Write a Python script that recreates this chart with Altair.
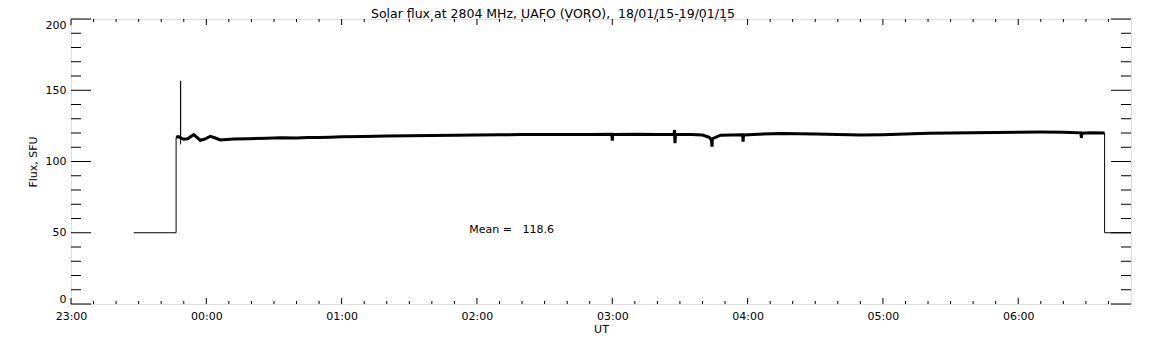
import altair as alt
import pandas as pd

# ---- data (time in minutes after 23:00 UT, flux in SFU) ----
pre_t = [27.8, 46.6, 46.6]
pre_v = [50.0, 50.0, 117.0]

spike_t = [48.6, 48.6, 48.6]
spike_v = [117.0, 156.6, 112.0]

sig_t = [46.6, 47.7, 49.9, 51.7, 54.4, 57.3, 59.1, 61.8, 64.0, 66.2, 72.1, 79.0,
         86.9, 92.8, 100.2, 105, 110, 115, 120, 130, 140, 150, 160, 170, 180,
         190, 200, 210, 220, 230, 239.8, 240, 240.2, 250, 260, 267.4, 267.6, 267.8,
         268.0, 268.2, 275, 280, 283, 284.0, 284.2, 284.4, 288, 297.8, 298, 298.2,
         305, 315, 330, 340, 350, 360, 370, 380, 390, 400, 410, 420, 430, 440,
         447.8, 448, 448.2, 452, 458.3]
sig_v = [117.0, 117.4, 115.6, 116.0, 118.8, 114.9, 115.6, 117.7, 116.5, 115.1,
         115.8, 116.0, 116.3, 116.7, 116.5, 116.8, 116.9, 117.1, 117.3, 117.6,
         117.9, 118.1, 118.3, 118.5, 118.6, 118.8, 118.9, 119.0, 118.9, 119.0,
         119.1, 114.6, 119.0, 119.2, 119.0, 119.1, 122.0, 112.8, 118.8, 118.9,
         118.9, 118.6, 117.0, 115.0, 110.4, 116.0, 118.5, 118.8, 113.9, 118.6,
         119.2, 119.6, 119.3, 119.0, 118.6, 118.8, 119.3, 119.8, 120.0, 120.2,
         120.4, 120.6, 120.7, 120.5, 120.1, 116.5, 119.9, 120.2, 120.0]

post_t = [458.3, 458.3, 470.0]
post_v = [120.0, 50.0, 50.0]

NB = "\u00a0"
mean_text = ["Mean =" + NB * 3 + "118.6"]
mean_t = [176.6]
mean_v = [52.0]

title_text = "Solar flux at 2804 MHz, UAFO (VORO)," + NB * 2 + "18/01/15-19/01/15"

x_major = [0, 60, 120, 180, 240, 300, 360, 420]
x_labels = ["23:00", "00:00", "01:00", "02:00", "03:00", "04:00", "05:00", "06:00"]
x_minor = [m for m in range(10, 470, 10) if m % 60 != 0]
y_major = [0, 50, 100, 150, 200]
y_minor = [v for v in range(10, 200, 10) if v % 50 != 0]

W, H = 1060, 285
FONT = "DejaVu Sans"

# ---- tables ----
rows = []
for seg, ts, vs in [("pre", pre_t, pre_v), ("spike", spike_t, spike_v),
                    ("post", post_t, post_v)]:
    for i, (t, v) in enumerate(zip(ts, vs)):
        rows.append({"seg": seg, "i": i, "t": t, "v": v})
df_thin = pd.DataFrame(rows)
df_sig = pd.DataFrame({"t": sig_t, "v": sig_v, "i": list(range(len(sig_t)))})

xscale = alt.Scale(domain=[0, 470], nice=False, zero=False)
yscale = alt.Scale(domain=[0, 200], nice=False)

label_arr = "[" + ",".join("'%s'" % s for s in x_labels) + "]"
xaxis = alt.Axis(values=x_major, labelExpr=label_arr + "[round(datum.value/60)]",
                 title="UT", ticks=False, domain=False, grid=False,
                 labelPadding=6, titlePadding=2, labelFlush=False, labelOverlap=False,
                 titleFontWeight="normal", titleFont=FONT, titleFontSize=11,
                 labelFont=FONT, labelFontSize=11, labelColor="black", titleColor="black")
yaxis = alt.Axis(values=y_major, title="Flux, SFU", ticks=False, domain=False,
                 grid=False, labelPadding=5, titlePadding=7, labelFlush=True,
                 labelOverlap=False, titleFontWeight="normal", titleFont=FONT,
                 titleFontSize=11, labelFont=FONT, labelFontSize=11,
                 labelColor="black", titleColor="black")

X = lambda f: alt.X(f, type="quantitative", scale=xscale, axis=xaxis)
Y = lambda f: alt.Y(f, type="quantitative", scale=yscale, axis=yaxis)

thin = alt.Chart(df_thin).mark_line(color="black", strokeWidth=1).encode(
    x=X("t"), y=Y("v"), detail="seg:N", order="i:Q")
sig = alt.Chart(df_sig).mark_line(color="black", strokeWidth=3, strokeJoin="miter").encode(
    x=X("t"), y=Y("v"), order="i:Q")

mean_df = pd.DataFrame({"t": mean_t, "v": mean_v, "txt": mean_text})
mean = alt.Chart(mean_df).mark_text(align="left", baseline="middle", font=FONT,
                                    fontSize=11, color="black").encode(
    x=X("t"), y=Y("v"), text="txt:N")

def xticks(vals, length):
    d = pd.DataFrame({"t": vals})
    bottom = alt.Chart(d).mark_rule(color="black", strokeWidth=1).encode(
        x=X("t"), y=alt.value(H), y2=alt.value(H - length))
    top = alt.Chart(d).mark_rule(color="black", strokeWidth=1).encode(
        x=X("t"), y=alt.value(0), y2=alt.value(length))
    return [bottom, top]

def yticks(vals, length):
    d = pd.DataFrame({"v": vals})
    left = alt.Chart(d).mark_rule(color="black", strokeWidth=1).encode(
        y=Y("v"), x=alt.value(0), x2=alt.value(length))
    right = alt.Chart(d).mark_rule(color="black", strokeWidth=1).encode(
        y=Y("v"), x=alt.value(W), x2=alt.value(W - length))
    return [left, right]

layers = [thin, sig, mean] + xticks(x_major, 6) + xticks(x_minor, 3) + \
    yticks(y_major, 20) + yticks(y_minor, 10)

chart = alt.layer(*layers).properties(
    width=W, height=H,
    title=alt.TitleParams(title_text, anchor="start", frame="group", dx=300,
                          offset=-1.5, fontSize=12.5, font=FONT,
                          fontWeight="normal", color="black"),
    autosize=alt.AutoSizeParams(type="none"),
    padding={"left": 63, "top": 11, "right": 13, "bottom": 33},
).configure_view(stroke="black", strokeWidth=1).configure(background="white")

chart.save("out.html", embed_options={"renderer": "svg", "actions": False})
